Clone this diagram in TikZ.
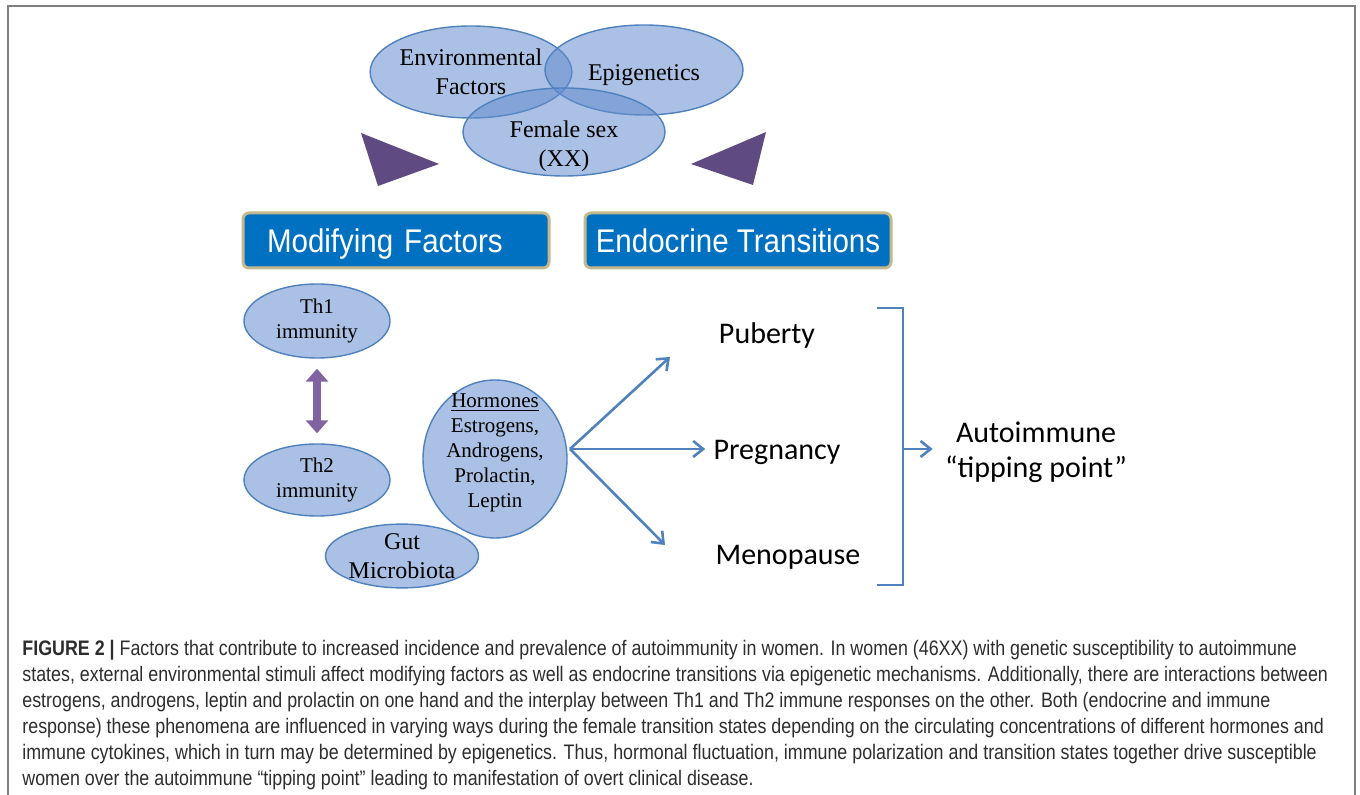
\documentclass[tikz,border=0pt]{standalone}
\usepackage{fontspec}
\setmainfont{Liberation Serif}
\newfontfamily\calibfont{Carlito}
\newfontfamily\boxfont[FakeStretch=0.9]{Liberation Sans}
\newfontfamily\capfont[FakeStretch=0.85]{Liberation Sans}
\usetikzlibrary{shapes.geometric,arrows.meta}

\definecolor{ellfill}{RGB}{100,140,205}
\definecolor{ellline}{RGB}{79,129,189}
\definecolor{boxblue}{RGB}{0,112,192}
\definecolor{boxrim}{RGB}{196,185,140}
\definecolor{wedge}{RGB}{95,75,130}
\definecolor{thpurple}{RGB}{128,100,162}
\definecolor{captext}{RGB}{45,45,45}
\definecolor{framegray}{RGB}{128,128,128}

\begin{document}
\begin{tikzpicture}[x=0.5pt,y=-0.5pt]
    \tikzstyle{bubble}=[ellipse, draw=ellline, line width=0.7pt, fill=ellfill, fill opacity=0.55, text opacity=1, inner sep=0pt, align=center, font=\fontsize{12}{14.5}\selectfont]
    \tikzstyle{smallbubble}=[bubble, font=\fontsize{10.5}{12.5}\selectfont]
    \tikzstyle{titlebox}=[draw=boxrim, line width=1.5pt, rounded corners=3pt, fill=boxblue, text=white, minimum width=153pt, minimum height=27.5pt, text height=12pt, text depth=0pt, font=\boxfont\fontsize{16.4}{18}\selectfont]
    \tikzstyle{stage}=[font=\calibfont\fontsize{15}{17.5}\selectfont, align=center, inner sep=4pt]
    \tikzstyle{bluearrow}=[draw=ellline, line width=1.3pt, -{Straight Barb[length=5pt,width=8pt]}]
    \useasboundingbox (0,0) rectangle (1360,795);

    % open frame
    \draw[framegray, line width=1pt] (8,795) -- (8,6) -- (1355,6) -- (1355,795);

    % overlapping circles on top
    \node[bubble, minimum width=100pt, minimum height=46pt] (env) at (471,72) {Environmental\\Factors};
    \node[bubble, minimum width=99pt, minimum height=45pt,
          label={[text opacity=1, yshift=-2.5pt, font=\fontsize{12}{14.5}\selectfont]center:Epigenetics}] (epi) at (644,70) {};
    \node[bubble, minimum width=101pt, minimum height=44pt,
          label={[align=center, text opacity=1, yshift=-7pt, font=\fontsize{12}{14.5}\selectfont]center:Female sex\\(XX)}] (fem) at (564,132) {};

    % wedges
    \fill[wedge] (361,133) -- (439,164) -- (378,186) -- cycle;
    \fill[wedge] (766,132) -- (691,164) -- (753,185) -- cycle;

    % headers
    \node[titlebox, align=left, text width=129pt, inner xsep=12pt] (modf) at (396,240.5) {Modifying Factors};
    \node[titlebox, align=center] (endo) at (738,240.5) {Endocrine Transitions};

    % modifying factors
    \node[smallbubble, minimum width=73pt, minimum height=37pt] (th1) at (317,321) {Th1\\immunity};
    \node[smallbubble, minimum width=73pt, minimum height=36pt] (th2) at (317,480) {Th2\\immunity};
    \node[bubble, minimum width=76.5pt, minimum height=31pt] (gut) at (402,556) {Gut\\Microbiota};
    \node[smallbubble, minimum width=72pt, minimum height=79pt,
          label={[align=center, text opacity=1, yshift=3pt, font=\fontsize{10.5}{12.5}\selectfont]center:\underline{Hormones}\\Estrogens,\\Androgens,\\Prolactin,\\Leptin}] (horm) at (495,459) {};
    \draw[thpurple, line width=4pt, {Triangle[width=11pt,length=6.5pt]}-{Triangle[width=11pt,length=6.5pt]},
          shorten <=5pt, shorten >=5pt] (th1.south) -- (th2.north);

    % endocrine transitions
    \node[stage] (pub) at (767,336) {Puberty};
    \node[stage] (preg) at (777,452) {Pregnancy};
    \node[stage] (meno) at (788,557) {Menopause};
    \node[stage] (tip) at (1036,452) {Autoimmune\\“tipping point”};

    \coordinate (fork) at (570,449);
    \coordinate (pubend) at (670,357);
    \coordinate (menoend) at (665,545);
    \draw[bluearrow] (fork) -- (pubend);
    \draw[bluearrow] (fork) -- (fork -| preg.west);
    \draw[bluearrow] (fork) -- (menoend);

    % bracket
    \draw[ellline, line width=1.3pt] (877,308) -- (903,308) -- (903,585) -- (877,585);
    \coordinate (brk) at (903,449);
    \draw[bluearrow, shorten >=2pt] (brk) -- (brk -| tip.west);

    % caption
    \node[anchor=north west, align=left, inner sep=0pt, text=captext, font=\capfont\fontsize{10.5}{13}\selectfont] (cap) at (22,640)
        {\textbf{FIGURE 2 |} Factors that contribute to increased incidence and prevalence of autoimmunity in women. In women (46XX) with genetic susceptibility to autoimmune\\
         states, external environmental stimuli affect modifying factors as well as endocrine transitions via epigenetic mechanisms. Additionally, there are interactions between\\
         estrogens, androgens, leptin and prolactin on one hand and the interplay between Th1 and Th2 immune responses on the other. Both (endocrine and immune\\
         response) these phenomena are influenced in varying ways during the female transition states depending on the circulating concentrations of different hormones and\\
         immune cytokines, which in turn may be determined by epigenetics. Thus, hormonal fluctuation, immune polarization and transition states together drive susceptible\\
         women over the autoimmune “tipping point” leading to manifestation of overt clinical disease.};
\end{tikzpicture}
\end{document}
